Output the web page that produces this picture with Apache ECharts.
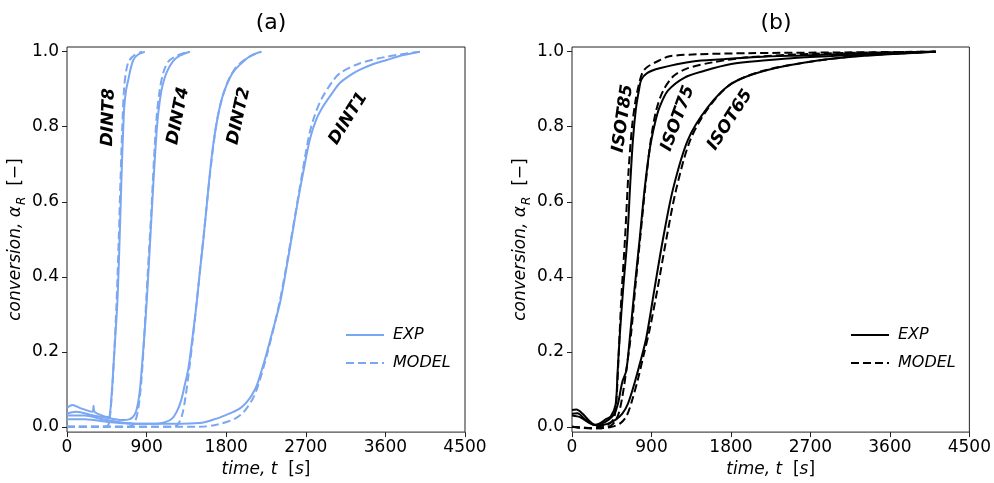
<!DOCTYPE html>
<html>
<head>
<meta charset="utf-8">
<script src="https://cdn.jsdelivr.net/npm/echarts@6/dist/echarts.min.js"></script>
<style>html,body{margin:0;padding:0;background:#fff}#c{width:994px;height:483px}</style>
</head>
<body>
<div id="c"></div>
<script>
// ---------- data ----------
const xTicks = [0, 900, 1800, 2700, 3600, 4500];
const yTicks = [0, 0.2, 0.4, 0.6, 0.8, 1.0];
const panelTitles = ['(a)', '(b)'];
const legendNames = ['EXP', 'MODEL'];

// Panel (a): dynamic runs [time s, conversion]
const DINT8_EXP = [[0,0.05],[60,0.058],[150,0.05],[250,0.042],[290,0.04],[300,0.056],[312,0.04],[400,0.03],[460,0.026],[480,0.028],[500,0.07],[530,0.18],[569,0.33],[595,0.5],[618,0.68],[635,0.79],[648,0.855],[670,0.9],[693,0.925],[720,0.955],[750,0.978],[800,0.992],[880,1.0]];
const DINT8_MODEL = [[0,0.0],[420,0.0],[470,0.006],[505,0.08],[530,0.18],[560,0.33],[585,0.5],[605,0.66],[625,0.8],[645,0.9],[670,0.95],[700,0.975],[760,0.99],[850,1.0]];
const DINT4_EXP = [[0,0.035],[100,0.04],[300,0.03],[500,0.022],[650,0.018],[700,0.02],[740,0.025],[780,0.04],[820,0.09],[850,0.17],[880,0.26],[908,0.36],[946,0.52],[984,0.68],[1021,0.81],[1050,0.87],[1080,0.91],[1127,0.945],[1200,0.975],[1280,0.99],[1390,1.0]];
const DINT4_MODEL = [[0,0.0],[700,0.0],[760,0.01],[800,0.04],[840,0.12],[880,0.27],[915,0.42],[950,0.56],[985,0.72],[1015,0.83],[1050,0.9],[1090,0.945],[1150,0.975],[1250,0.99],[1370,1.0]];
const DINT2_EXP = [[0,0.03],[200,0.03],[400,0.02],[600,0.012],[800,0.008],[1000,0.008],[1100,0.012],[1180,0.02],[1240,0.04],[1290,0.07],[1330,0.11],[1372,0.155],[1420,0.24],[1466,0.33],[1505,0.42],[1542,0.5],[1580,0.59],[1617,0.68],[1655,0.755],[1692,0.81],[1740,0.865],[1787,0.9],[1840,0.93],[1900,0.952],[2013,0.978],[2100,0.992],[2200,1.0]];
const DINT2_MODEL = [[0,0.0],[1200,0.0],[1250,0.005],[1300,0.03],[1340,0.08],[1380,0.15],[1420,0.23],[1470,0.34],[1545,0.51],[1620,0.68],[1695,0.815],[1785,0.9],[1900,0.955],[2050,0.985],[2190,1.0]];
const DINT1_EXP = [[0,0.02],[200,0.02],[500,0.012],[800,0.008],[1200,0.008],[1500,0.01],[1692,0.022],[1800,0.032],[1881,0.04],[1960,0.05],[2032,0.066],[2090,0.085],[2145,0.11],[2200,0.15],[2258,0.197],[2330,0.26],[2408,0.33],[2475,0.415],[2540,0.504],[2605,0.595],[2672,0.68],[2748,0.768],[2820,0.82],[2898,0.855],[3000,0.89],[3087,0.917],[3200,0.937],[3313,0.952],[3450,0.966],[3614,0.978],[3803,0.991],[3990,1.0]];
const DINT1_MODEL = [[0,0.0],[1500,0.0],[1700,0.006],[1900,0.022],[2000,0.04],[2100,0.075],[2160,0.11],[2270,0.2],[2410,0.34],[2540,0.51],[2670,0.69],[2740,0.78],[2800,0.83],[2880,0.875],[3000,0.92],[3087,0.943],[3300,0.968],[3600,0.986],[3990,1.0]];

// Panel (b): isothermal runs [time s, conversion]
const ISOT85_EXP = [[0,0.045],[50,0.046],[120,0.035],[200,0.015],[260,0.005],[320,0.01],[380,0.02],[440,0.028],[494,0.06],[515,0.14],[539,0.237],[580,0.37],[626,0.5],[660,0.65],[690,0.765],[725,0.85],[760,0.9],[784,0.925],[850,0.943],[992,0.956],[1366,0.974],[1700,0.98],[2100,0.986],[2600,0.99],[3400,0.996],[4120,1.0]];
const ISOT85_MODEL = [[0,0.0],[200,-0.004],[300,0.0],[400,0.005],[470,0.02],[500,0.06],[530,0.2],[560,0.35],[600,0.5],[640,0.68],[680,0.8],[720,0.87],[760,0.915],[800,0.945],[856,0.96],[1000,0.978],[1105,0.988],[1426,0.993],[2000,0.996],[3000,0.998],[4120,1.0]];
const ISOT75_EXP = [[0,0.035],[60,0.036],[150,0.02],[250,0.005],[330,0.008],[420,0.02],[480,0.035],[521,0.062],[570,0.12],[615,0.15],[660,0.25],[709,0.37],[766,0.5],[822,0.633],[880,0.74],[940,0.81],[992,0.852],[1086,0.896],[1275,0.931],[1501,0.949],[1803,0.967],[2200,0.977],[2557,0.984],[3100,0.99],[3689,0.995],[4120,1.0]];
const ISOT75_MODEL = [[0,0.0],[300,-0.004],[450,0.005],[520,0.03],[570,0.08],[620,0.16],[670,0.25],[720,0.38],[775,0.51],[830,0.64],[890,0.76],[950,0.84],[1030,0.895],[1150,0.935],[1300,0.955],[1600,0.972],[2000,0.985],[2800,0.995],[4120,1.0]];
const ISOT65_EXP = [[0,0.03],[100,0.025],[200,0.01],[300,0.004],[400,0.008],[500,0.02],[570,0.035],[634,0.062],[700,0.11],[770,0.17],[841,0.237],[935,0.369],[1030,0.5],[1143,0.633],[1313,0.765],[1539,0.852],[1803,0.914],[2180,0.949],[2746,0.975],[3312,0.989],[4120,1.0]];
const ISOT65_MODEL = [[0,0.0],[300,-0.004],[450,0.0],[550,0.01],[620,0.03],[680,0.07],[750,0.13],[810,0.19],[880,0.26],[970,0.37],[1068,0.5],[1180,0.633],[1340,0.765],[1550,0.852],[1800,0.914],[2180,0.95],[2750,0.975],[3300,0.99],[4120,1.0]];

// curve annotations: [label, time, conversion, rotation deg]
const labelsA = [['DINT8',470,0.825,88],['DINT4',1258,0.829,79],['DINT2',1945,0.829,78],['DINT1',3181,0.822,58]];
const labelsB = [['ISOT85',577,0.822,82],['ISOT75',1199,0.822,70],['ISOT65',1791,0.818,57]];

// ---------- chart ----------
const BLUE = '#7aa6f2', BLACK = '#000';
const FONT = '"DejaVu Sans", sans-serif';
const chart = echarts.init(document.getElementById('c'), null, {renderer: 'canvas'});

function lineSeries(name, data, idx, color, dashed) {
  return {
    type: 'line', name: name, data: data, xAxisIndex: idx, yAxisIndex: idx,
    symbol: 'none', showSymbol: false, smooth: 0.3,
    lineStyle: {color: color, width: 2, type: dashed ? [8, 4] : 'solid'},
    itemStyle: {color: color}, animation: false, z: 3
  };
}
function labelSeries(lbls, idx) {
  return {
    type: 'scatter', xAxisIndex: idx, yAxisIndex: idx, symbolSize: 1,
    itemStyle: {color: 'rgba(255,255,255,0)'}, animation: false, silent: true, z: 5,
    data: lbls.map(l => ({name: l[0], value: [l[1], l[2]],
      label: {show: true, position: 'inside', rotate: l[3], formatter: l[0], opacity: 1,
        textBorderWidth: 0, textBorderColor: 'transparent', textShadowBlur: 0,
        fontFamily: FONT, fontSize: 17, fontWeight: 'bold', fontStyle: 'italic', color: '#000'}}))
  };
}
function xAxisCfg(idx) {
  return {
    type: 'value', gridIndex: idx, min: xTicks[0], max: xTicks[xTicks.length - 1], interval: 900,
    axisLine: {show: false, onZero: false},
    axisTick: {show: true, length: 5, lineStyle: {color: '#222'}},
    axisLabel: {color: '#000', fontSize: 17, fontFamily: FONT, margin: 7, formatter: v => String(v)},
    splitLine: {show: false},
    name: '{i|time, t  }{n|[}{i|s}{n|]}', nameLocation: 'middle', nameGap: 27,
    nameTextStyle: {fontFamily: FONT, fontSize: 17, color: '#000',
      rich: {i: {fontFamily: FONT, fontSize: 17, fontStyle: 'italic', color: '#000'},
             n: {fontFamily: FONT, fontSize: 17, color: '#000'}}}
  };
}
function yAxisCfg(idx) {
  return {
    type: 'value', gridIndex: idx, min: -0.014, max: 1.0125,
    axisLine: {show: false},
    axisTick: {show: true, length: 5, customValues: yTicks, lineStyle: {color: '#222'}},
    axisLabel: {color: '#000', fontSize: 17, fontFamily: FONT, margin: 8, customValues: yTicks,
      formatter: v => v.toFixed(1)},
    splitLine: {show: false},
    name: '{i|conversion, α}{s|R}{n|  [−]}', nameLocation: 'middle', nameGap: 37,
    nameTextStyle: {fontFamily: FONT, fontSize: 17, color: '#000',
      rich: {i: {fontFamily: FONT, fontSize: 17, fontStyle: 'italic', color: '#000', lineHeight: 24, verticalAlign: 'middle'},
             s: {fontFamily: FONT, fontSize: 12, fontStyle: 'italic', color: '#000', lineHeight: 24, verticalAlign: 'bottom', padding: [0, 0, 0, 1]},
             n: {fontFamily: FONT, fontSize: 17, color: '#000', lineHeight: 24, verticalAlign: 'middle'}}}
  };
}
function legendCfg(left, suffix) {
  return {
    orient: 'vertical', left: left, top: 322, itemWidth: 38, itemHeight: 14, itemGap: 12,
    data: legendNames.map(n => n + suffix),
    formatter: name => name.replace(suffix, ''),
    selectedMode: false,
    itemStyle: {opacity: 0},
    textStyle: {fontFamily: FONT, fontSize: 16, fontStyle: 'italic', color: '#000', padding: [0, 0, 0, 4]}
  };
}

const option = {
  backgroundColor: '#fff',
  animation: false,
  title: [
    {text: panelTitles[0], left: 266, top: 7, textAlign: 'center', textStyle: {fontFamily: FONT, fontSize: 22, fontWeight: 'normal', color: '#000'}},
    {text: panelTitles[1], left: 771, top: 7, textAlign: 'center', textStyle: {fontFamily: FONT, fontSize: 22, fontWeight: 'normal', color: '#000'}}
  ],
  grid: [
    {left: 67, top: 47, width: 398, height: 390, show: true, borderColor: '#222', borderWidth: 1, backgroundColor: 'transparent'},
    {left: 572, top: 47, width: 398, height: 390, show: true, borderColor: '#222', borderWidth: 1, backgroundColor: 'transparent'}
  ],
  xAxis: [xAxisCfg(0), xAxisCfg(1)],
  yAxis: [yAxisCfg(0), yAxisCfg(1)],
  legend: [legendCfg(340, ''), legendCfg(845, ' (b)')],
  series: [
    lineSeries('EXP', DINT8_EXP, 0, BLUE, false),
    lineSeries('MODEL', DINT8_MODEL, 0, BLUE, true),
    lineSeries('DINT4 exp', DINT4_EXP, 0, BLUE, false),
    lineSeries('DINT4 model', DINT4_MODEL, 0, BLUE, true),
    lineSeries('DINT2 exp', DINT2_EXP, 0, BLUE, false),
    lineSeries('DINT2 model', DINT2_MODEL, 0, BLUE, true),
    lineSeries('DINT1 exp', DINT1_EXP, 0, BLUE, false),
    lineSeries('DINT1 model', DINT1_MODEL, 0, BLUE, true),
    lineSeries('EXP (b)', ISOT85_EXP, 1, BLACK, false),
    lineSeries('MODEL (b)', ISOT85_MODEL, 1, BLACK, true),
    lineSeries('ISOT75 exp', ISOT75_EXP, 1, BLACK, false),
    lineSeries('ISOT75 model', ISOT75_MODEL, 1, BLACK, true),
    lineSeries('ISOT65 exp', ISOT65_EXP, 1, BLACK, false),
    lineSeries('ISOT65 model', ISOT65_MODEL, 1, BLACK, true),
    labelSeries(labelsA, 0),
    labelSeries(labelsB, 1)
  ]
};
chart.setOption(option);
</script>
</body>
</html>
